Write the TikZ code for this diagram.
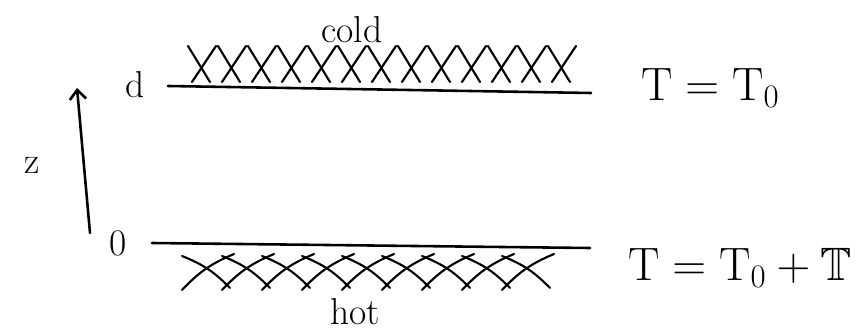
\RequirePackage{fix-cm}
\documentclass[tikz,border=0pt]{standalone}
\usepackage{amssymb}
\usetikzlibrary{arrows.meta}
\tikzset{
  pen/.style={line width=2.2pt, line cap=round},
  hatch/.style={line width=1.8pt, line cap=round},
  lbl/.style={inner sep=0pt, font=\fontsize{32}{38}\selectfont},
  eqn/.style={inner sep=0pt, anchor=west, font=\fontsize{40}{48}\selectfont}
}
\begin{document}
\begin{tikzpicture}[x=0.03cm,y=-0.03cm]
\useasboundingbox (0,0) rectangle (856,335);
% plates
\coordinate (tl) at (168,86);
\coordinate (tr) at (591,93);
\coordinate (bl) at (152,243);
\coordinate (br) at (590,248);
\draw[pen] (tl) -- (tr);
\draw[pen] (bl) -- (br);
% cold side
\foreach \x in {188,218,...,548} {
  \draw[hatch] (\x,46) -- ++(22,36);
  \draw[hatch] (\x+4,82) -- ++(24,-36);
}
% hot side
\foreach \x in {182,222,...,522} {
  \draw[hatch] (\x,256) to[bend left=12] ++(48,32);
  \draw[hatch] (\x,290) to[bend left=12] ++(52,-36);
}
\node[lbl] (cold) at (352,30) {cold};
\node[lbl] (hot) at (355,312) {hot};
\node[lbl] (d) at (135,85) {d};
\node[lbl] (zero) at (118,243) {0};
\node[lbl] (z) at (32,165) {z};
% axis
\coordinate (zlo) at (90,233);
\coordinate (zhi) at (77,88);
\draw[pen,-{Straight Barb[length=8pt,width=14pt]}] (zlo) -- (zhi);
\node[eqn] (tcold) at (641,88) {$\mathrm{T} = \mathrm{T}_0$};
\node[eqn] (thot) at (628,268) {$\mathrm{T} = \mathrm{T}_0 + \mathbb{T}$};
\end{tikzpicture}
\end{document}
